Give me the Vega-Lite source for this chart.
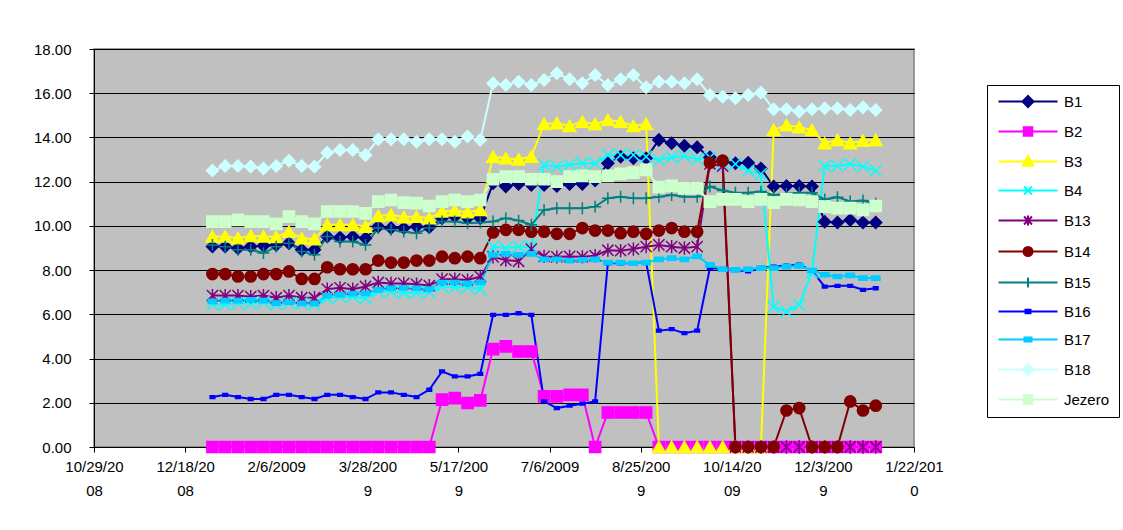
{
  "$schema": "https://vega.github.io/schema/vega-lite/v6.json",
  "autosize": {"type": "none"},
  "padding": {"left": 94, "top": 49, "right": 209, "bottom": 83},
  "width": 820,
  "height": 398,
  "background": "white",
  "data": {
    "values": [
      {"d":"2009/01/02","B1":9.07,"B2":0,"B3":9.52,"B4":6.45,"B13":6.85,"B14":7.82,"B15":9.14,"B16":2.26,"B17":6.58,"B18":12.50,"Jezero":10.19},
      {"d":"2009/01/09","B1":9.07,"B2":0,"B3":9.52,"B4":6.45,"B13":6.85,"B14":7.82,"B15":9.06,"B16":2.36,"B17":6.62,"B18":12.71,"Jezero":10.19},
      {"d":"2009/01/16","B1":8.99,"B2":0,"B3":9.44,"B4":6.50,"B13":6.85,"B14":7.71,"B15":8.92,"B16":2.26,"B17":6.62,"B18":12.71,"Jezero":10.27},
      {"d":"2009/01/23","B1":9.07,"B2":0,"B3":9.55,"B4":6.50,"B13":6.80,"B14":7.71,"B15":8.92,"B16":2.17,"B17":6.66,"B18":12.68,"Jezero":10.19},
      {"d":"2009/01/30","B1":9.10,"B2":0,"B3":9.52,"B4":6.55,"B13":6.85,"B14":7.82,"B15":8.77,"B16":2.17,"B17":6.62,"B18":12.60,"Jezero":10.19},
      {"d":"2009/02/06","B1":9.14,"B2":0,"B3":9.50,"B4":6.45,"B13":6.75,"B14":7.82,"B15":9.06,"B16":2.36,"B17":6.51,"B18":12.71,"Jezero":10.09},
      {"d":"2009/02/13","B1":9.22,"B2":0,"B3":9.74,"B4":6.50,"B13":6.85,"B14":7.94,"B15":9.22,"B16":2.36,"B17":6.55,"B18":12.95,"Jezero":10.42},
      {"d":"2009/02/20","B1":8.92,"B2":0,"B3":9.44,"B4":6.50,"B13":6.75,"B14":7.60,"B15":8.84,"B16":2.26,"B17":6.49,"B18":12.71,"Jezero":10.19},
      {"d":"2009/02/27","B1":8.92,"B2":0,"B3":9.40,"B4":6.45,"B13":6.75,"B14":7.60,"B15":8.69,"B16":2.17,"B17":6.49,"B18":12.68,"Jezero":10.09},
      {"d":"2009/03/06","B1":9.52,"B2":0,"B3":10.05,"B4":6.73,"B13":7.14,"B14":8.13,"B15":9.52,"B16":2.36,"B17":6.84,"B18":13.31,"Jezero":10.65},
      {"d":"2009/03/13","B1":9.48,"B2":0,"B3":10.05,"B4":6.80,"B13":7.20,"B14":8.04,"B15":9.29,"B16":2.36,"B17":6.88,"B18":13.43,"Jezero":10.65},
      {"d":"2009/03/20","B1":9.52,"B2":0,"B3":10.05,"B4":6.80,"B13":7.14,"B14":8.04,"B15":9.29,"B16":2.26,"B17":6.93,"B18":13.43,"Jezero":10.65},
      {"d":"2009/03/27","B1":9.44,"B2":0,"B3":9.97,"B4":6.73,"B13":7.26,"B14":8.04,"B15":9.14,"B16":2.17,"B17":6.95,"B18":13.20,"Jezero":10.57},
      {"d":"2009/04/03","B1":9.97,"B2":0,"B3":10.45,"B4":7.03,"B13":7.44,"B14":8.43,"B15":9.90,"B16":2.47,"B17":7.11,"B18":13.92,"Jezero":11.10},
      {"d":"2009/04/10","B1":9.90,"B2":0,"B3":10.50,"B4":7.03,"B13":7.40,"B14":8.34,"B15":9.82,"B16":2.47,"B17":7.18,"B18":13.92,"Jezero":11.17},
      {"d":"2009/04/17","B1":9.90,"B2":0,"B3":10.40,"B4":6.98,"B13":7.40,"B14":8.34,"B15":9.74,"B16":2.36,"B17":7.20,"B18":13.92,"Jezero":11.05},
      {"d":"2009/04/24","B1":9.97,"B2":0,"B3":10.42,"B4":6.98,"B13":7.36,"B14":8.43,"B15":9.67,"B16":2.26,"B17":7.18,"B18":13.81,"Jezero":11.03},
      {"d":"2009/05/01","B1":9.94,"B2":0,"B3":10.35,"B4":7.00,"B13":7.30,"B14":8.43,"B15":9.90,"B16":2.59,"B17":7.14,"B18":13.92,"Jezero":10.90},
      {"d":"2009/05/08","B1":10.35,"B2":2.14,"B3":10.65,"B4":7.26,"B13":7.59,"B14":8.61,"B15":10.20,"B16":3.42,"B17":7.44,"B18":13.92,"Jezero":11.10},
      {"d":"2009/05/15","B1":10.42,"B2":2.21,"B3":10.70,"B4":7.22,"B13":7.59,"B14":8.54,"B15":10.20,"B16":3.19,"B17":7.44,"B18":13.81,"Jezero":11.17},
      {"d":"2009/05/22","B1":10.35,"B2":1.99,"B3":10.62,"B4":7.22,"B13":7.55,"B14":8.61,"B15":10.12,"B16":3.19,"B17":7.40,"B18":14.04,"Jezero":11.10},
      {"d":"2009/05/29","B1":10.35,"B2":2.11,"B3":10.72,"B4":7.15,"B13":7.71,"B14":8.54,"B15":10.15,"B16":3.31,"B17":7.44,"B18":13.89,"Jezero":11.17},
      {"d":"2009/06/05","B1":11.93,"B2":4.43,"B3":13.13,"B4":9.06,"B13":8.60,"B14":9.70,"B15":10.20,"B16":5.98,"B17":8.69,"B18":16.45,"Jezero":12.11},
      {"d":"2009/06/12","B1":11.78,"B2":4.55,"B3":13.06,"B4":8.99,"B13":8.45,"B14":9.82,"B15":10.35,"B16":5.98,"B17":8.73,"B18":16.37,"Jezero":12.23},
      {"d":"2009/06/19","B1":11.90,"B2":4.32,"B3":13.01,"B4":9.06,"B13":8.40,"B14":9.82,"B15":10.24,"B16":6.05,"B17":8.69,"B18":16.52,"Jezero":12.23},
      {"d":"2009/06/26","B1":11.85,"B2":4.32,"B3":13.13,"B4":9.06,"B13":8.95,"B14":9.74,"B15":10.05,"B16":5.98,"B17":8.73,"B18":16.37,"Jezero":12.11},
      {"d":"2009/07/03","B1":11.85,"B2":2.29,"B3":14.61,"B4":12.76,"B13":8.62,"B14":9.74,"B15":10.72,"B16":2.06,"B17":8.49,"B18":16.60,"Jezero":12.11},
      {"d":"2009/07/10","B1":11.80,"B2":2.29,"B3":14.65,"B4":12.68,"B13":8.60,"B14":9.64,"B15":10.80,"B16":1.76,"B17":8.49,"B18":16.90,"Jezero":12.00},
      {"d":"2009/07/17","B1":11.90,"B2":2.36,"B3":14.52,"B4":12.76,"B13":8.62,"B14":9.64,"B15":10.80,"B16":1.87,"B17":8.43,"B18":16.63,"Jezero":12.23},
      {"d":"2009/07/24","B1":11.90,"B2":2.36,"B3":14.71,"B4":12.83,"B13":8.60,"B14":9.90,"B15":10.80,"B16":1.96,"B17":8.46,"B18":16.45,"Jezero":12.26},
      {"d":"2009/07/31","B1":12.05,"B2":0,"B3":14.61,"B4":12.83,"B13":8.65,"B14":9.79,"B15":10.87,"B16":2.06,"B17":8.49,"B18":16.82,"Jezero":12.23},
      {"d":"2009/08/07","B1":12.83,"B2":1.56,"B3":14.79,"B4":13.21,"B13":8.90,"B14":9.79,"B15":11.25,"B16":8.31,"B17":8.34,"B18":16.37,"Jezero":12.26},
      {"d":"2009/08/14","B1":13.13,"B2":1.56,"B3":14.71,"B4":13.21,"B13":8.88,"B14":9.67,"B15":11.32,"B16":8.31,"B17":8.34,"B18":16.63,"Jezero":12.35},
      {"d":"2009/08/21","B1":13.06,"B2":1.56,"B3":14.52,"B4":13.21,"B13":8.95,"B14":9.74,"B15":11.25,"B16":8.31,"B17":8.31,"B18":16.82,"Jezero":12.41},
      {"d":"2009/08/28","B1":13.06,"B2":1.56,"B3":14.61,"B4":13.13,"B13":9.06,"B14":9.64,"B15":11.25,"B16":8.36,"B17":8.34,"B18":16.27,"Jezero":12.53},
      {"d":"2009/09/04","B1":13.89,"B2":0,"B3":0,"B4":12.98,"B13":9.14,"B14":9.79,"B15":11.32,"B16":5.26,"B17":8.49,"B18":16.52,"Jezero":11.75},
      {"d":"2009/09/11","B1":13.74,"B2":0,"B3":0,"B4":13.10,"B13":9.06,"B14":9.90,"B15":11.40,"B16":5.33,"B17":8.54,"B18":16.52,"Jezero":11.81},
      {"d":"2009/09/18","B1":13.62,"B2":0,"B3":0,"B4":13.16,"B13":9.00,"B14":9.74,"B15":11.32,"B16":5.15,"B17":8.49,"B18":16.45,"Jezero":11.70},
      {"d":"2009/09/25","B1":13.56,"B2":0,"B3":0,"B4":13.01,"B13":9.06,"B14":9.74,"B15":11.32,"B16":5.26,"B17":8.62,"B18":16.63,"Jezero":11.70},
      {"d":"2009/10/02","B1":13.10,"B2":0,"B3":0,"B4":13.10,"B13":12.80,"B14":12.86,"B15":11.78,"B16":8.09,"B17":8.24,"B18":15.92,"Jezero":11.10},
      {"d":"2009/10/09","B1":12.90,"B2":0,"B3":0,"B4":12.83,"B13":12.70,"B14":12.95,"B15":11.60,"B16":8.05,"B17":8.04,"B18":15.84,"Jezero":11.20},
      {"d":"2009/10/16","B1":12.83,"B2":0,"B3":0,"B4":12.80,"B13":0,"B14":0,"B15":11.50,"B16":8.00,"B17":8.01,"B18":15.77,"Jezero":11.20},
      {"d":"2009/10/23","B1":12.86,"B2":0,"B3":0,"B4":12.50,"B13":0,"B14":0,"B15":11.50,"B16":7.94,"B17":8.04,"B18":15.92,"Jezero":11.10},
      {"d":"2009/10/30","B1":12.60,"B2":0,"B3":0,"B4":12.35,"B13":0,"B14":0,"B15":11.55,"B16":8.10,"B17":8.09,"B18":16.02,"Jezero":11.20},
      {"d":"2009/11/06","B1":11.78,"B2":0,"B3":14.34,"B4":6.33,"B13":0,"B14":0,"B15":11.40,"B16":8.16,"B17":8.09,"B18":15.27,"Jezero":11.05},
      {"d":"2009/11/13","B1":11.80,"B2":0,"B3":14.56,"B4":6.13,"B13":0,"B14":1.65,"B15":11.45,"B16":8.20,"B17":8.16,"B18":15.27,"Jezero":11.20},
      {"d":"2009/11/20","B1":11.80,"B2":0,"B3":14.46,"B4":6.43,"B13":0,"B14":1.76,"B15":11.50,"B16":8.25,"B17":8.19,"B18":15.17,"Jezero":11.17},
      {"d":"2009/11/27","B1":11.78,"B2":0,"B3":14.34,"B4":7.90,"B13":0,"B14":0,"B15":11.50,"B16":7.98,"B17":7.98,"B18":15.27,"Jezero":11.10},
      {"d":"2009/12/04","B1":10.19,"B2":0,"B3":13.74,"B4":12.71,"B13":0,"B14":0,"B15":11.20,"B16":7.25,"B17":7.79,"B18":15.32,"Jezero":10.87},
      {"d":"2009/12/11","B1":10.15,"B2":0,"B3":13.89,"B4":12.71,"B13":0,"B14":0,"B15":11.30,"B16":7.29,"B17":7.71,"B18":15.32,"Jezero":10.80},
      {"d":"2009/12/18","B1":10.27,"B2":0,"B3":13.74,"B4":12.80,"B13":0,"B14":2.06,"B15":11.10,"B16":7.29,"B17":7.76,"B18":15.24,"Jezero":10.80},
      {"d":"2009/12/25","B1":10.15,"B2":0,"B3":13.86,"B4":12.68,"B13":0,"B14":1.65,"B15":11.15,"B16":7.11,"B17":7.64,"B18":15.36,"Jezero":10.72},
      {"d":"2010/01/01","B1":10.15,"B2":0,"B3":13.89,"B4":12.50,"B13":0,"B14":1.87,"B15":11.00,"B16":7.18,"B17":7.64,"B18":15.24,"Jezero":10.90}
    ]
  },
  "transform": [
    {"fold": ["B1","B2","B3","B4","B13","B14","B15","B16","B17","B18","Jezero"], "as": ["s","v"]}
  ],
  "encoding": {
    "x": {
      "field": "d", "type": "temporal",
      "scale": {"domain": [{"year":2008,"month":10,"date":29},{"year":2010,"month":1,"date":22}], "nice": false},
      "axis": {
        "title": null, "grid": false, "tickSize": 5, "labelPadding": 7,
        "labelFlush": false, "labelOverlap": false, "labelLineHeight": 24,
        "values": [
          {"year":2008,"month":10,"date":29},{"year":2008,"month":12,"date":18},
          {"year":2009,"month":2,"date":6},{"year":2009,"month":3,"date":28},
          {"year":2009,"month":5,"date":17},{"year":2009,"month":7,"date":6},
          {"year":2009,"month":8,"date":25},{"year":2009,"month":10,"date":14},
          {"year":2009,"month":12,"date":3},{"year":2010,"month":1,"date":22}
        ],
        "labelExpr": "length(timeFormat(datum.value, '%-m/%-d/%Y')) > 8 ? [slice(timeFormat(datum.value, '%-m/%-d/%Y'), 0, 8), slice(timeFormat(datum.value, '%-m/%-d/%Y'), 8)] : timeFormat(datum.value, '%-m/%-d/%Y')"
      }
    },
    "y": {
      "field": "v", "type": "quantitative",
      "scale": {"domain": [0, 18], "nice": false},
      "axis": {"title": null, "values": [0,2,4,6,8,10,12,14,16,18], "format": ".2f", "tickSize": 5, "labelPadding": 18, "grid": true}
    }
  },
  "layer": [
    {
      "mark": {"type": "line", "strokeWidth": 2},
      "encoding": {
        "color": {
          "field": "s", "type": "nominal",
          "scale": {
            "domain": ["B1","B2","B3","B4","B13","B14","B15","B16","B17","B18","Jezero"],
            "range": ["#000080","#FF00FF","#FFFF00","#00FFFF","#800080","#800000","#008080","#0000FF","#00CCFF","#CCFFFF","#CCFFCC"]
          },
          "legend": {
            "title": null,
            "orient": "none", "legendX": 893, "legendY": 36,
            "symbolSize": 100, "labelOffset": 53, "rowPadding": 12, "padding": 9,
            "encode": {
              "symbols": {
                "update": {
                  "shape": {"signal": "datum.value === 'B1' || datum.value === 'B18' ? 'M-1,0H10.8M4.9,-1.1L6,0L4.9,1.1L3.8,0Z' : datum.value === 'B2' || datum.value === 'Jezero' ? 'M-1,0H10.8M4.05,-0.85H5.75V0.85H4.05Z' : datum.value === 'B3' ? 'M-1,0H10.8M4.9,-1.1L5.95,0.85H3.85Z' : datum.value === 'B4' ? 'M-1,0H10.8M4.1,-0.8L5.7,0.8M4.1,0.8L5.7,-0.8' : datum.value === 'B13' ? 'M-1,0H10.8M4.1,-0.8L5.7,0.8M4.1,0.8L5.7,-0.8M4.9,-1V1' : datum.value === 'B14' ? 'M-1,0H10.8M5.8,0A0.9,0.9 0 1,1 4,0A0.9,0.9 0 1,1 5.8,0Z' : datum.value === 'B15' ? 'M-1,0H10.8M4.9,-1V1' : datum.value === 'B16' ? 'M-1,0H10.8M4.4,-0.35H5.4V0.35H4.4Z' : 'M-1,0H10.8M4.2,-0.4H5.6V0.4H4.2Z'"},
                  "fill": {"signal": "scale('color', datum.value)"},
                  "stroke": {"signal": "scale('color', datum.value)"},
                  "strokeWidth": {"value": 2},
                  "opacity": {"value": 1},
                  "size": {"value": 100}
                }
              }
            }
          }
        }
      }
    },
    {
      "mark": {"type": "point", "filled": true, "opacity": 1, "strokeWidth": 1.5, "size": 196},
      "encoding": {
        "fill": {
          "field": "s", "type": "nominal", "legend": null,
          "scale": {
            "domain": ["Jezero","B18","B17","B16","B15","B14","B13","B4","B3","B2","B1"],
            "range": ["#CCFFCC","#CCFFFF","#00CCFF","#0000FF","#008080","#800000","#800080","#00FFFF","#FFFF00","#FF00FF","#000080"]
          }
        },
        "stroke": {
          "field": "s", "type": "nominal", "legend": null,
          "scale": {
            "domain": ["Jezero","B18","B17","B16","B15","B14","B13","B4","B3","B2","B1"],
            "range": ["#CCFFCC","#CCFFFF","#00CCFF","#0000FF","#008080","#800000","#800080","#00FFFF","#FFFF00","#FF00FF","#000080"]
          }
        },
        "shape": {
          "field": "s", "type": "nominal", "legend": null,
          "scale": {
            "domain": ["Jezero","B18","B17","B16","B15","B14","B13","B4","B3","B2","B1"],
            "range": [
              "M-0.8,-0.8H0.8V0.8H-0.8Z",
              "M-0.85,0L0,-0.85L0.85,0L0,0.85Z",
              "M-0.6,-0.3H0.6V0.3H-0.6Z",
              "M-0.33,-0.2H0.33V0.2H-0.33Z",
              "M-0.85,0H0.85M0,-0.85V0.85",
              "M0.8,0A0.8,0.8 0 1,1 -0.8,0A0.8,0.8 0 1,1 0.8,0Z",
              "M-0.8,-0.8L0.8,0.8M-0.8,0.8L0.8,-0.8M0,-0.95V0.95",
              "M-0.85,-0.85L0.85,0.85M-0.85,0.85L0.85,-0.85",
              "M0,-0.8L0.9,0.8L-0.9,0.8Z",
              "M-0.8,-0.8H0.8V0.8H-0.8Z",
              "M-0.85,0L0,-0.85L0.85,0L0,0.85Z"
            ]
          }
        }
      }
    }
  ],
  "config": {
    "font": "Liberation Sans",
    "view": {"fill": "#C0C0C0", "stroke": "#808080", "strokeWidth": 1.5},
    "axis": {
      "labelFont": "Liberation Sans", "labelFontSize": 15, "labelColor": "black",
      "domainColor": "black", "domainWidth": 1, "tickColor": "black", "tickWidth": 1,
      "gridColor": "black", "gridWidth": 1, "gridOpacity": 1
    },
    "legend": {
      "labelFont": "Liberation Sans", "labelFontSize": 15, "labelColor": "black",
      "fillColor": "white", "strokeColor": "black", "strokeWidth": 1
    }
  }
}
